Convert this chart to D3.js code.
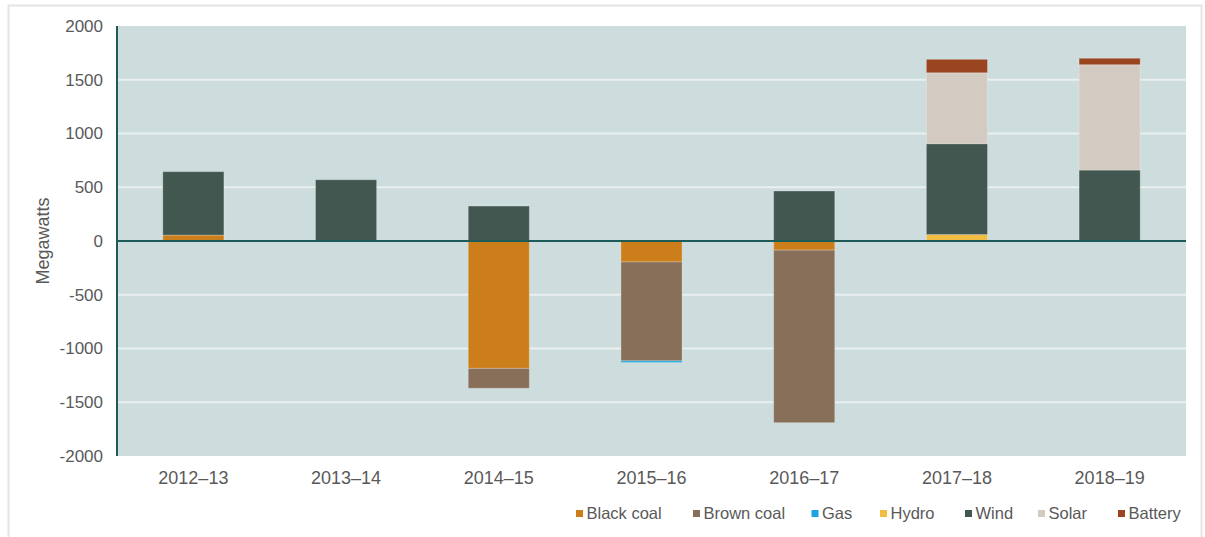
<!DOCTYPE html>
<html>
<head>
<meta charset="utf-8">
<script src="https://cdn.jsdelivr.net/npm/d3@7/dist/d3.min.js"></script>
<style>
  html, body { margin: 0; padding: 0; background: #ffffff; }
  svg { display: block; font-family: "Liberation Sans", Arial, sans-serif; }
</style>
</head>
<body>
<svg id="chart" width="1205" height="537"></svg>
<script>
// Financial years shown on the x axis
const years = ["2012–13", "2013–14", "2014–15", "2015–16", "2016–17", "2017–18", "2018–19"];

// Net change in capacity by fuel type (MW)
const blackCoal = [55, 0, -1185, -195, -85, 0, 0];
const brownCoal = [0, 0, -185, -920, -1605, 0, 0];
const gas       = [0, 0, 0, -15, 0, 0, 0];
const hydro     = [0, 0, 0, 0, 0, 60, 0];
const wind      = [590, 570, 325, 0, 465, 845, 660];
const solar     = [0, 0, 0, 0, 0, 660, 980];
const battery   = [0, 0, 0, 0, 0, 125, 60];

const seriesNames = ["Black coal", "Brown coal", "Gas", "Hydro", "Wind", "Solar", "Battery"];
const seriesValues = [blackCoal, brownCoal, gas, hydro, wind, solar, battery];
const seriesColors = ["#CC7E1B", "#876F59", "#1AA3E0", "#F1BD42", "#41574F", "#D3CBC1", "#9B4420"];

const yTicks = [-2000, -1500, -1000, -500, 0, 500, 1000, 1500, 2000];

const svg = d3.select("#chart");
const plot = { left: 117, right: 1186, top: 26, bottom: 456 };

// outer frame
svg.append("rect")
  .attr("x", 8.5).attr("y", 5.5)
  .attr("width", 1193).attr("height", 540)
  .attr("fill", "#ffffff")
  .attr("stroke", "#e4e4e4").attr("stroke-width", 2);

const x = d3.scaleBand()
  .domain(years)
  .range([plot.left, plot.right])
  .paddingInner(0.6)
  .paddingOuter(0.3);

const y = d3.scaleLinear()
  .domain([-2000, 2000])
  .range([plot.bottom, plot.top]);

// plot background
svg.append("rect")
  .attr("x", plot.left).attr("y", plot.top)
  .attr("width", plot.right - plot.left)
  .attr("height", plot.bottom - plot.top)
  .attr("fill", "#CDDCDD");

// horizontal gridlines
svg.append("g")
  .selectAll("line")
  .data(yTicks.filter(t => t !== 0 && t !== 2000 && t !== -2000))
  .join("line")
  .attr("x1", plot.left).attr("x2", plot.right)
  .attr("y1", d => y(d)).attr("y2", d => y(d))
  .attr("stroke", "#EAEFEF").attr("stroke-width", 2);

// stacked bars, positives above zero and negatives below
const rows = years.map((yr, i) => {
  const r = { year: yr };
  seriesNames.forEach((n, k) => { r[n] = seriesValues[k][i]; });
  return r;
});
const stacked = d3.stack()
  .keys(seriesNames)
  .offset(d3.stackOffsetDiverging)(rows);

svg.append("g")
  .selectAll("g")
  .data(stacked)
  .join("g")
  .attr("fill", (d, i) => seriesColors[i])
  .selectAll("rect")
  .data(d => d.filter(s => s[1] - s[0] !== 0))
  .join("rect")
  .attr("x", d => x(d.data.year))
  .attr("width", x.bandwidth())
  .attr("y", d => y(Math.max(d[0], d[1])))
  .attr("height", d => Math.abs(y(d[0]) - y(d[1])))
  .attr("stroke", "rgba(255,255,255,0.25)")
  .attr("stroke-width", 1);

// zero line and y axis line
svg.append("line")
  .attr("x1", plot.left).attr("x2", plot.right)
  .attr("y1", y(0)).attr("y2", y(0))
  .attr("stroke", "#1D5B58").attr("stroke-width", 2);
svg.append("line")
  .attr("x1", plot.left).attr("x2", plot.left)
  .attr("y1", plot.top).attr("y2", plot.bottom)
  .attr("stroke", "#1D5B58").attr("stroke-width", 2);

// y axis tick labels
const yAxis = d3.axisLeft(y)
  .tickValues(yTicks)
  .tickFormat(d => String(d))
  .tickSize(0)
  .tickPadding(14);
const gy = svg.append("g")
  .attr("transform", `translate(${plot.left},0)`)
  .call(yAxis);
gy.select(".domain").remove();
gy.selectAll("text")
  .attr("fill", "#595959")
  .style("font-size", "17px");

// x axis labels
const xAxis = d3.axisBottom(x).tickSize(0).tickPadding(15);
const gx = svg.append("g")
  .attr("transform", `translate(0,${plot.bottom})`)
  .call(xAxis);
gx.select(".domain").remove();
gx.selectAll("text")
  .attr("fill", "#595959")
  .style("font-size", "18px");

// y axis title
svg.append("text")
  .attr("transform", `translate(49,${y(0)}) rotate(-90)`)
  .attr("text-anchor", "middle")
  .attr("fill", "#595959")
  .style("font-size", "18px")
  .text("Megawatts");

// legend
const legendX = [576, 693, 811.5, 880, 965, 1038, 1118];
const legend = svg.append("g").attr("transform", "translate(0,513.5)");
const items = legend.selectAll("g")
  .data(seriesNames)
  .join("g")
  .attr("transform", (d, i) => `translate(${legendX[i]},0)`);
items.append("rect")
  .attr("x", 0).attr("y", -3.5)
  .attr("width", 7).attr("height", 7)
  .attr("fill", (d, i) => seriesColors[i]);
items.append("text")
  .attr("x", 10.5).attr("y", 0)
  .attr("dy", "0.35em")
  .attr("fill", "#595959")
  .style("font-size", "16.5px")
  .text(d => d);
</script>
</body>
</html>
